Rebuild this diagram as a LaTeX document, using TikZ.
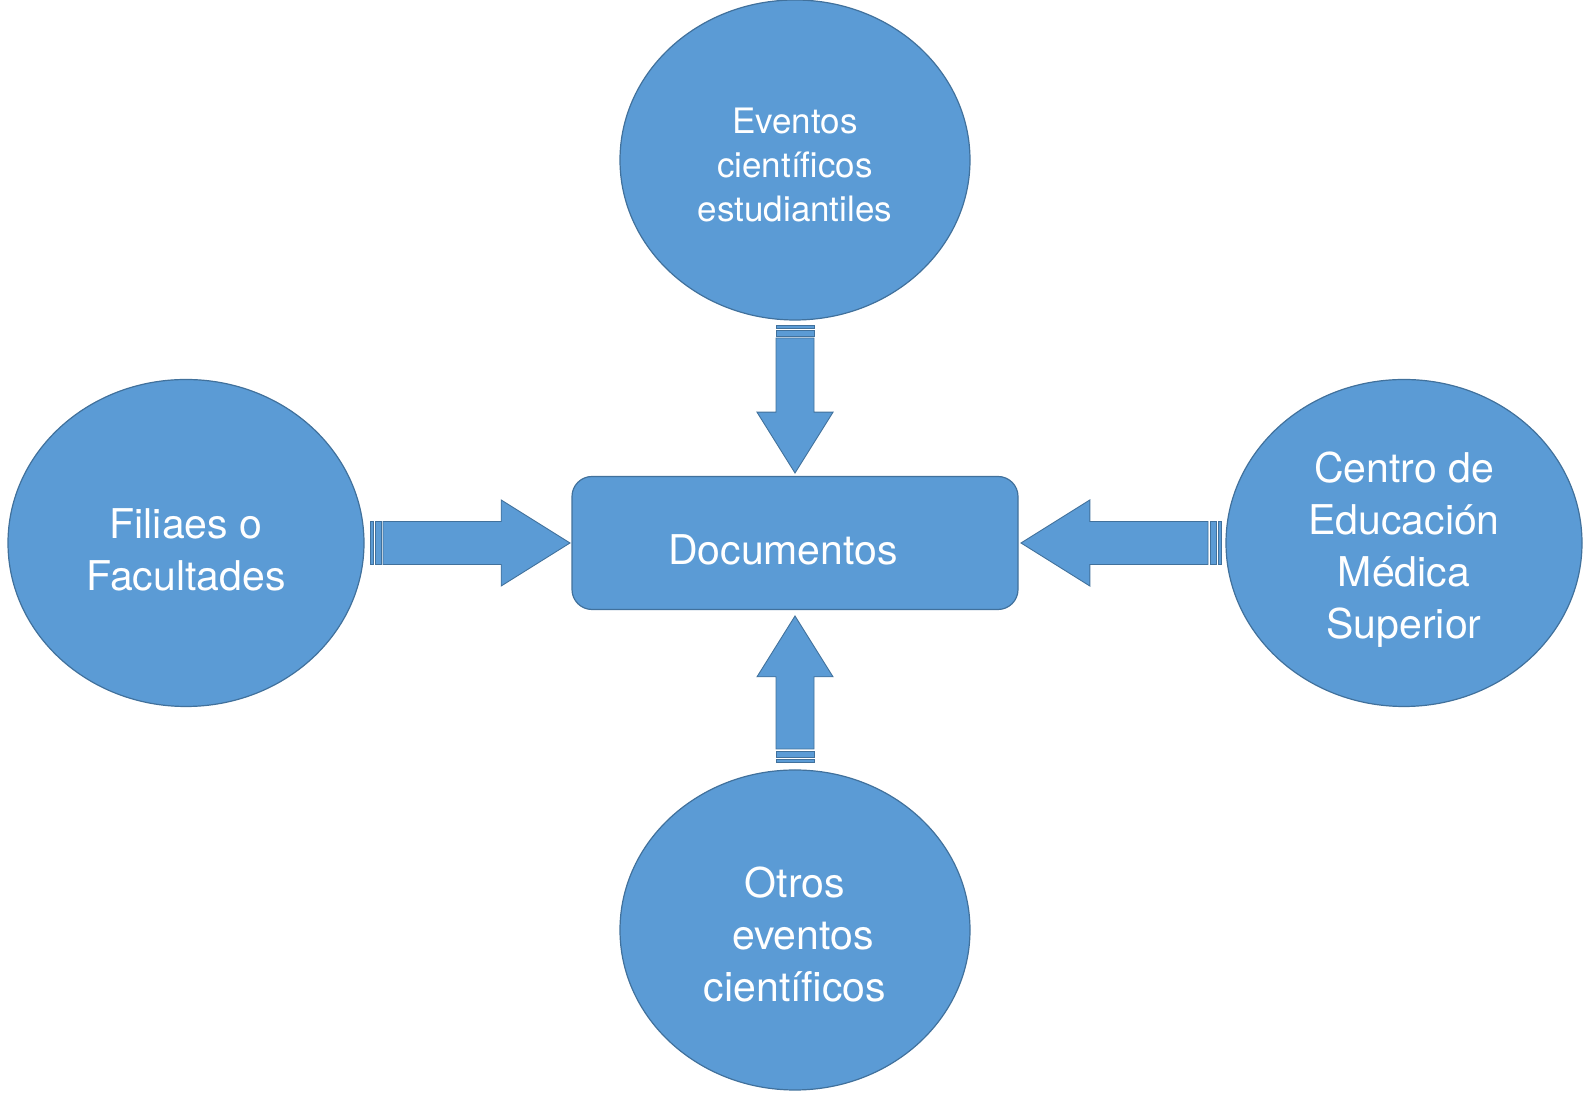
\documentclass[tikz,border=0pt]{standalone}
\usepackage{fontspec}
\setmainfont{TeX Gyre Heros}
\usepackage{tikz}
\usetikzlibrary{calc,positioning,shapes.geometric}
\definecolor{boxfill}{HTML}{5B9BD5}
\definecolor{boxline}{HTML}{41719C}
\tikzset{
    source/.style={ellipse, draw=boxline, fill=boxfill, line width=1.2pt, outer sep=0pt,
        text=white, align=center, font=\fontsize{41}{52}\selectfont},
    target/.style={rectangle, rounded corners=20pt, draw=boxline, fill=boxfill, line width=1.2pt,
        outer sep=0pt, text=white, font=\fontsize{41}{52}\selectfont,
        minimum width=446pt, minimum height=133pt},
    blockarrow/.style={draw=boxline, fill=boxfill, line width=0.9pt, line join=miter}
}
% invisible strut that lowers the text a bit
\newcommand{\dropline}[1]{\rule{0pt}{#1}}
% striped block arrow: start, angle, length, half width of the shaft
\newcommand{\stripedarrow}[4]{%
  \begin{scope}[shift={#1}, rotate=#2]
    \draw[blockarrow] (13,-#4) -- (#3-3.2*#4,-#4) -- (#3-3.2*#4,-2*#4) -- (#3,0)
        -- (#3-3.2*#4,2*#4) -- (#3-3.2*#4,#4) -- (13,#4) -- cycle;
    \draw[blockarrow] (0,-#4) rectangle (3,#4);
    \draw[blockarrow] (5,-#4) rectangle (11,#4);
  \end{scope}}

\begin{document}
\begin{tikzpicture}[x=1pt, y=1pt]
    \useasboundingbox (0,0) rectangle (1583,1097);
    % Nodes
    \node[target] (docs) at (795,554) {\dropline{44pt}Documentos\hspace*{24pt}};
    \node[source, minimum width=350pt, minimum height=320pt,
        font=\fontsize{35}{44}\selectfont] (eventos) at (795,937)
        {\dropline{36pt}Eventos\\científicos\\estudiantiles};
    \node[source, minimum width=356pt, minimum height=327pt] (filiales) at (186,554)
        {\dropline{44pt}Filiaes o\\Facultades};
    \node[source, minimum width=356pt, minimum height=327pt] (centro) at (1404,554)
        {\dropline{44pt}Centro de\\Educación\\Médica\\Superior};
    \node[source, minimum width=350pt, minimum height=320pt] (otros) at (795,167)
        {\dropline{40pt}Otros\\\hspace*{16pt}eventos\\científicos};

    % arrows
    \stripedarrow{($(filiales.east)+(6,0)$)}{0}{200}{21.5}
    \stripedarrow{($(centro.west)+(-5,0)$)}{180}{200}{21.5}
    \stripedarrow{($(eventos.south)+(0,-5)$)}{-90}{148}{19}
    \stripedarrow{($(otros.north)+(0,8)$)}{90}{146}{19}
\end{tikzpicture}
\end{document}
